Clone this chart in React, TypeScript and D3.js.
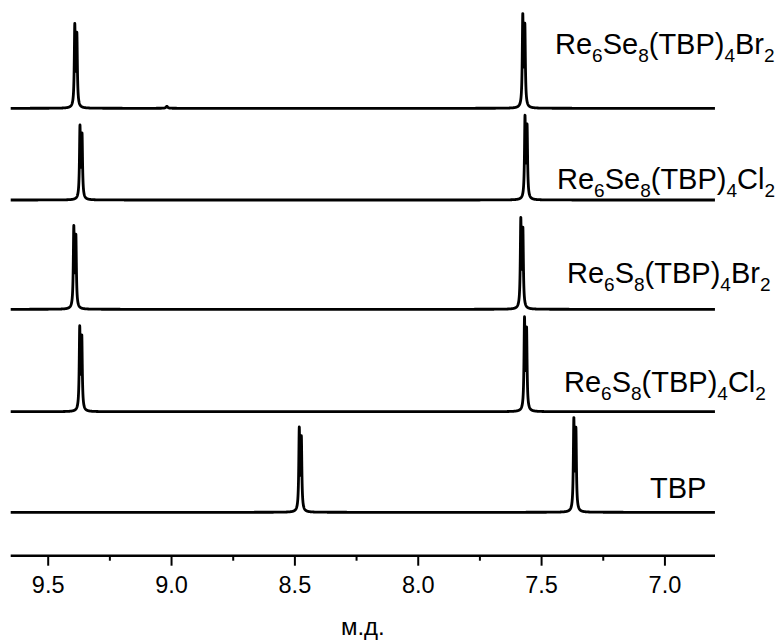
import React, { useMemo } from "react";
import * as d3 from "d3";

// ---- data (top spectrum first) ----
const labelParts: string[][] = [
  ["Re", "6", "Se", "8", "(TBP)", "4", "Br", "2"],
  ["Re", "6", "Se", "8", "(TBP)", "4", "Cl", "2"],
  ["Re", "6", "S", "8", "(TBP)", "4", "Br", "2"],
  ["Re", "6", "S", "8", "(TBP)", "4", "Cl", "2"],
  ["TBP"],
];
const peak1Ppm = [9.388, 9.367, 9.392, 9.368, 8.478];
const peak2Ppm = [7.572, 7.563, 7.58, 7.565, 7.365];
const peak1Height = [85, 75, 84, 86, 85.6];
const peak2Height = [95, 85, 92, 95, 95];
const baselineOffset = [404, 312.3, 203, 100.6, 0];
// small impurity bumps: [spectrum index, ppm, height]
const minorPeaks: [number, number, number][] = [[0, 9.019, 2]];
const xTicks = [9.5, 9.0, 8.5, 8.0, 7.5, 7.0];
const xMinorTicks = [9.25, 8.75, 8.25, 7.75, 7.25];
const xDomain = [9.652, 6.797];
const axisTitle = "м.д.";

// ---- layout ----
const W = 782;
const H = 643;
const X0 = 10.7;
const X1 = 715;
const AXIS_Y = 555.7;
const labelX = [555, 557, 567, 564, 650];
const labelY = [54, 189, 283, 392, 498];
const FONT = "'Liberation Sans', Arial, Helvetica, sans-serif";

// doublet line shape
const SPLIT = 0.0042;
const GAMMA = 0.0024;
function lor(x: number, c: number, g = GAMMA) {
  const d = (x - c) / g;
  return 1 / (1 + d * d);
}
function doublet(x: number, c: number) {
  return lor(x, c + SPLIT) + 0.88 * lor(x, c - SPLIT);
}
function doubletMax(c: number) {
  let m = 0;
  for (let t = c - 0.02; t <= c + 0.02; t += 0.0001) m = Math.max(m, doublet(t, c));
  return m;
}

export default function App() {
  const x = d3.scaleLinear().domain(xDomain).range([X0, X1]);
  const y = d3.scaleLinear().domain([-43.4, 512.3]).range([AXIS_Y, 0]);

  const paths = useMemo(() => {
    const grid = d3.range(xDomain[0], xDomain[1], -0.0003);
    return labelParts.map((_, i) => {
      const m1 = doubletMax(peak1Ppm[i]);
      const m2 = doubletMax(peak2Ppm[i]);
      const minors = minorPeaks.filter((mp) => mp[0] === i);
      const pts: [number, number][] = grid.map((p) => {
        let v =
          baselineOffset[i] +
          (peak1Height[i] * doublet(p, peak1Ppm[i])) / m1 +
          (peak2Height[i] * doublet(p, peak2Ppm[i])) / m2;
        for (const mp of minors) v += mp[2] * lor(p, mp[1], 0.004);
        return [p, v];
      });
      const line = d3
        .line<[number, number]>()
        .x((d) => x(d[0]))
        .y((d) => y(d[1]));
      return line(pts) as string;
    });
  }, []);

  return (
    <svg
      width={W}
      height={H}
      style={{ position: "absolute", left: 0, top: 0, background: "#fff" }}
      fontFamily={FONT}
    >
      <rect width={W} height={H} fill="#fff" />
      {paths.map((d, i) => (
        <path key={i} d={d} fill="none" stroke="#000" strokeWidth={2.8} strokeLinejoin="round" />
      ))}
      {labelParts.map((parts, i) => (
        <text key={"l" + i} x={labelX[i]} y={labelY[i]} fontSize={29} fill="#000">
          {parts.map((s, j) =>
            j % 2 === 0 ? (
              <tspan key={j} fontSize={29} dy={j === 0 ? 0 : -8}>
                {s}
              </tspan>
            ) : (
              <tspan key={j} fontSize={19} dy={8}>
                {s}
              </tspan>
            )
          )}
        </text>
      ))}
      {/* x axis */}
      <line x1={X0} x2={X1} y1={AXIS_Y} y2={AXIS_Y} stroke="#000" strokeWidth={2.6} />
      {xTicks.map((t) => (
        <g key={t}>
          <line x1={x(t)} x2={x(t)} y1={AXIS_Y} y2={AXIS_Y + 10} stroke="#000" strokeWidth={2} />
          <text x={x(t)} y={593} textAnchor="middle" fontSize={23.5} fill="#000">
            {t.toFixed(1)}
          </text>
        </g>
      ))}
      {xMinorTicks.map((t) => (
        <line key={t} x1={x(t)} x2={x(t)} y1={AXIS_Y} y2={AXIS_Y + 5} stroke="#000" strokeWidth={2} />
      ))}
      <text x={(X0 + X1) / 2} y={635} textAnchor="middle" fontSize={24} fill="#000">
        {axisTitle}
      </text>
    </svg>
  );
}
